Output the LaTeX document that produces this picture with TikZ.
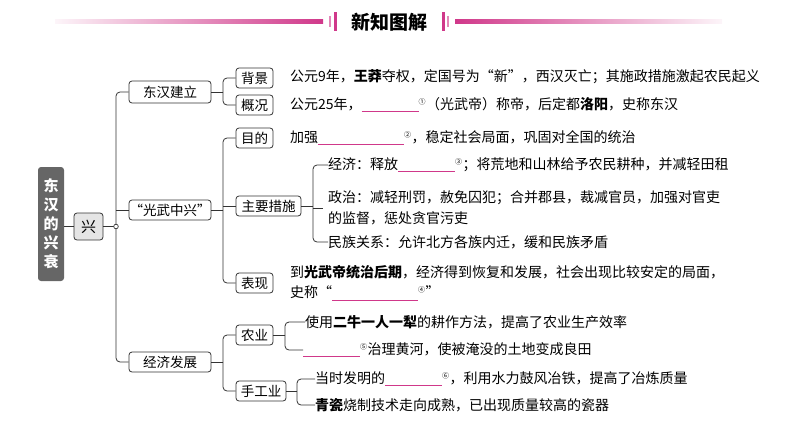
\documentclass[tikz,border=0pt]{standalone}
\usepackage{fontspec}
\setmainfont{Noto Sans CJK SC}
\usetikzlibrary{fadings}
\definecolor{pinkc}{HTML}{D0388A}
\definecolor{linec}{HTML}{333333}
\newcommand\blk[1]{\textcolor{pinkc}{\rule[-2.5pt]{#1pt}{0.8pt}}}
\newcommand\sn[1]{\textsuperscript{\fontsize{7}{7}\selectfont #1}}
\tikzset{
 box/.style={draw=linec,line width=0.8pt,rounded corners=3pt,inner sep=0pt,minimum height=20pt,font=\fontsize{13.5}{13.5}\selectfont},
 txt/.style={anchor=west,inner sep=0pt,font=\fontsize{14}{14}\selectfont},
 con/.style={draw=linec,line width=0.8pt,rounded corners=4pt},
}
\begin{document}
\begin{tikzpicture}[x=1pt,y=-1pt]
\useasboundingbox (0,0) rectangle (794,447);
% header
\shade[left color=pinkc!5,right color=pinkc] (55,19.5) rectangle (323,23.5);
\shade[left color=pinkc,right color=pinkc!5] (455,19.5) rectangle (722,23.5);
\fill[pinkc!60] (329,16) rectangle (331,27);
\fill[pinkc] (334,12) rectangle (336.5,31);
\fill[pinkc] (442,12) rectangle (444.5,31);
\fill[pinkc!60] (447,16) rectangle (449,27);
\node[font=\fontsize{19}{19}\selectfont\bfseries] (title) at (389,22) {新知图解};
% root
\node[fill=black!60,rounded corners=3pt,text=white,minimum width=26pt,minimum height=114pt,inner sep=0pt,font=\fontsize{15}{19}\selectfont\bfseries,align=center] (root) at (51,224) {东\\汉\\的\\兴\\衰};
\node[box,fill=black!10,minimum width=29pt,minimum height=27pt,font=\fontsize{15}{15}\selectfont] (xing) at (88.5,226.5) {兴};
\coordinate (j0) at (116,226.5);
\draw[con] (root.east|-xing) -- (xing.west);
\draw[con] (xing.east) -- (j0);
% level 1
\node[box,minimum width=82pt,minimum height=22pt] (a) at (170,92) {东汉建立};
\node[box,minimum width=82pt] (b) at (170,210) {“光武中兴”};
\node[box,minimum width=82pt] (c) at (170,362) {经济发展};
\draw[con] (j0) |- (a.west);
\draw[con] (j0) |- (c.west);
\draw[con] (j0|-b) -- (b.west);
\draw[draw=linec,fill=white,line width=0.7pt] (j0) circle (2.3pt);
% level 2
\node[box,minimum width=37pt] (a1) at (254.5,78) {背景};
\node[box,minimum width=37pt] (a2) at (254.5,105) {概况};
\node[box,minimum width=37pt] (b1) at (254.5,138) {目的};
\node[box,minimum width=65pt] (b2) at (268.5,206) {主要措施};
\node[box,minimum width=37pt] (b3) at (254.5,283) {表现};
\node[box,minimum width=37pt] (c1) at (254.5,335) {农业};
\node[box,minimum width=50pt] (c2) at (261,391) {手工业};
\coordinate (ja) at (223,92);
\coordinate (jb) at (223,210);
\coordinate (jc) at (223,362);
\draw[con] (a.east) -- (ja);
\draw[con] (ja) |- (a1.west); \draw[con] (ja) |- (a2.west);
\draw[con] (b.east) -- (jb);
\draw[con] (jb) |- (b1.west); \draw[con] (jb) |- (b3.west); \draw[con] (jb|-b2) -- (b2.west);
\draw[con] (c.east) -- (jc);
\draw[con] (jc) |- (c1.west); \draw[con] (jc) |- (c2.west);
% texts
\node[txt] (t1) at (290,77) {公元9年，\textbf{王莽}夺权，定国号为“新”，西汉灭亡；其施政措施激起农民起义};
\node[txt] (t2) at (290,105) {公元25年，\blk{57}\sn{①}（光武帝）称帝，后定都\textbf{洛阳}，史称东汉};
\node[txt] (t3) at (290,138) {加强\blk{86}\sn{②}，稳定社会局面，巩固对全国的统治};
\node[txt] (m1) at (328,165) {经济：释放\blk{57}\sn{③}；将荒地和山林给予农民耕种，并减轻田租};
\node[txt,align=left] (m2) at (328,208) {政治：减轻刑罚，赦免囚犯；合并郡县，裁减官员，加强对官吏\\[6pt]的监督，惩处贪官污吏};
\node[txt] (m3) at (328,242) {民族关系：允许北方各族内迁，缓和民族矛盾};
\coordinate (jm) at (313,206);
\draw[con] (b2.east) -- (jm);
\draw[con] (jm) |- (m1.west); \draw[con] (jm) |- (m3.west); \draw[con] (jm|-m2.west) -- ++(10,0);
\node[txt,align=left] (t4) at (290,283) {到\textbf{光武帝统治后期}，经济得到恢复和发展，社会出现比较安定的局面，\\[6pt]史称“\blk{86}\sn{④}”};
\node[txt] (n1) at (305,322) {使用\textbf{二牛一人一犁}的耕作方法，提高了农业生产效率};
\node[txt] (n2) at (303,350) {\blk{57}\sn{⑤}治理黄河，使被淹没的土地变成良田};
\coordinate (jn) at (285,335);
\draw[con] (c1.east) -- (jn);
\draw[con] (jn) |- (n1.west); \draw[con] (jn) |- (n2.west);
\node[txt] (h1) at (315,379) {当时发明的\blk{57}\sn{⑥}，利用水力鼓风冶铁，提高了冶炼质量};
\node[txt] (h2) at (315,405) {\textbf{青瓷}烧制技术走向成熟，已出现质量较高的瓷器};
\coordinate (jh) at (297,391);
\draw[con] (c2.east) -- (jh);
\draw[con] (jh) |- (h1.west); \draw[con] (jh) |- (h2.west);
\end{tikzpicture}
\end{document}
